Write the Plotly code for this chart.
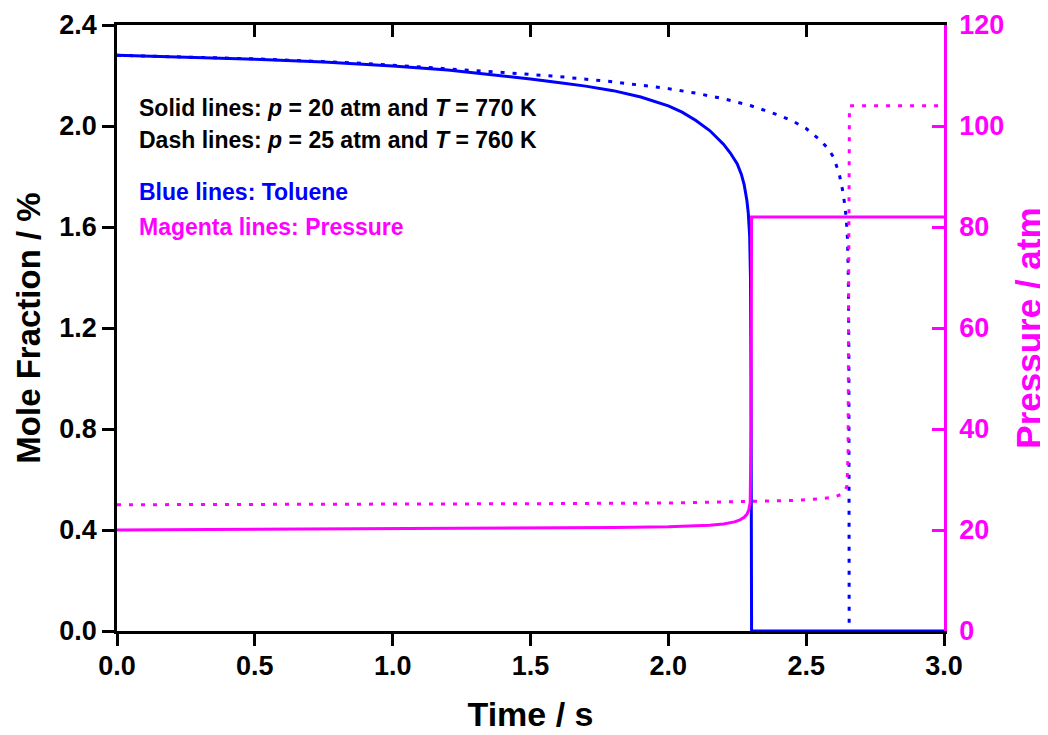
import plotly.graph_objects as go

# ---------------- data ----------------
t_tol_solid = [0.0, 0.25, 0.5, 0.75, 1.0, 1.2, 1.4, 1.5, 1.6, 1.7, 1.8, 1.9, 2.0, 2.05,
               2.1, 2.15, 2.2, 2.225, 2.25, 2.265, 2.275, 2.285, 2.29, 2.295, 2.298,
               2.300, 2.302, 3.0]
x_tol_solid = [2.280, 2.273, 2.264, 2.253, 2.238, 2.222, 2.199, 2.186, 2.172, 2.158,
               2.140, 2.115, 2.080, 2.055, 2.022, 1.982, 1.928, 1.893, 1.850, 1.808,
               1.768, 1.705, 1.655, 1.565, 1.400, 1.000, 0.0, 0.0]

t_tol_dash = [0.0, 0.5, 0.9, 1.2, 1.4, 1.6, 1.8, 2.0, 2.1, 2.2, 2.3, 2.35, 2.4, 2.45,
              2.5, 2.55, 2.58, 2.6, 2.62, 2.635, 2.645, 2.65, 2.653, 2.655, 2.656]
x_tol_dash = [2.280, 2.266, 2.248, 2.228, 2.212, 2.196, 2.175, 2.148, 2.130, 2.108,
              2.080, 2.062, 2.043, 2.020, 1.990, 1.945, 1.910, 1.875, 1.810, 1.730,
              1.640, 1.550, 1.400, 1.100, 0.0]

t_p_solid = [0.0, 0.5, 1.0, 1.5, 1.8, 2.0, 2.1, 2.15, 2.2, 2.24, 2.26, 2.275, 2.285,
             2.292, 2.297, 2.300, 2.302, 3.0]
p_solid = [20.0, 20.1, 20.2, 20.35, 20.5, 20.65, 20.8, 20.95, 21.2, 21.6, 22.0, 22.5,
           23.1, 24.0, 25.5, 40.0, 82.0, 82.0]

t_p_dash = [0.0, 0.5, 1.0, 1.5, 2.0, 2.3, 2.45, 2.55, 2.6, 2.625, 2.64, 2.648, 2.652,
            2.655, 2.657, 2.99]
p_dash = [25.0, 25.05, 25.1, 25.2, 25.35, 25.6, 25.85, 26.2, 26.5, 27.0, 27.8, 28.7,
          35.0, 80.0, 104.0, 104.0]

x_ticks = [0.0, 0.5, 1.0, 1.5, 2.0, 2.5, 3.0]
x_tick_labels = ["0.0", "0.5", "1.0", "1.5", "2.0", "2.5", "3.0"]
y_ticks = [0.0, 0.4, 0.8, 1.2, 1.6, 2.0, 2.4]
y_tick_labels = ["0.0", "0.4", "0.8", "1.2", "1.6", "2.0", "2.4"]
p_ticks = [0, 20, 40, 60, 80, 100, 120]

BLUE = "#0000FF"
MAG = "#FF00FF"
FONT = "Liberation Sans"
DOT = "4px,8px"

fig = go.Figure()

fig.add_trace(go.Scatter(x=t_p_dash, y=p_dash, mode="lines", yaxis="y2",
                         line=dict(color=MAG, width=3, dash=DOT), showlegend=False))
fig.add_trace(go.Scatter(x=t_tol_dash, y=x_tol_dash, mode="lines",
                         line=dict(color=BLUE, width=3, dash=DOT), showlegend=False))
fig.add_trace(go.Scatter(x=t_tol_solid, y=x_tol_solid, mode="lines",
                         line=dict(color=BLUE, width=3), showlegend=False))
fig.add_trace(go.Scatter(x=t_p_solid, y=p_solid, mode="lines", yaxis="y2",
                         line=dict(color=MAG, width=3), showlegend=False))

tickfont = dict(family=FONT, size=27, color="black", weight="bold")

fig.update_layout(
    width=1040, height=727,
    margin=dict(l=109, r=104, t=17, b=104),
    paper_bgcolor="white", plot_bgcolor="white",
    font=dict(family=FONT),
    xaxis=dict(range=[0, 3.0], tickvals=x_ticks, ticktext=x_tick_labels,
               ticks="outside", ticklen=12, tickwidth=2.5, tickcolor="black",
               showline=True, linecolor="black", linewidth=2.5, automargin=False,
               showgrid=False, zeroline=False, tickfont=tickfont,
               ticklabelstandoff=-3, layer="below traces",
               title=dict(text="<b>Time / s</b>", standoff=23,
                          font=dict(family=FONT, size=34, color="black"))),
    xaxis2=dict(range=[0, 3.0], overlaying="x", side="top", tickvals=x_ticks,
                ticks="inside", ticklen=12, tickwidth=2.5, tickcolor="black",
                showticklabels=False, showline=True, linecolor="black", linewidth=2.5,
                showgrid=False, zeroline=False, automargin=False),
    yaxis=dict(range=[0, 2.4], tickvals=y_ticks, ticktext=y_tick_labels,
               ticks="outside", ticklen=12, tickwidth=2.5, tickcolor="black",
               showline=True, linecolor="black", linewidth=2.5, automargin=False,
               showgrid=False, zeroline=False, tickfont=tickfont,
               title=dict(text="<b>Mole Fraction / %</b>", standoff=9,
                          font=dict(family=FONT, size=33, color="black"))),
    yaxis2=dict(range=[0, 120], overlaying="y", side="right", tickvals=p_ticks,
                ticks="inside", ticklen=12, tickwidth=2.5, tickcolor=MAG,
                showline=True, linecolor=MAG, linewidth=2.5, automargin=False,
                showgrid=False, zeroline=False, ticklabelstandoff=7,
                tickfont=dict(family=FONT, size=27, color=MAG, weight="bold"),
                title=dict(text="<b>Pressure / atm</b>", standoff=21,
                           font=dict(family=FONT, size=35, color=MAG))),
)

# dummy trace to activate xaxis2
fig.add_trace(go.Scatter(x=[0, 3], y=[None, None], xaxis="x2", mode="lines",
                         showlegend=False, hoverinfo="skip"))

anns = [
    ("<b>Solid lines: <i>p</i> = 20 atm and <i>T</i> = 770 K</b>", 2.07, "black"),
    ("<b>Dash lines: <i>p</i> = 25 atm and <i>T</i> = 760 K</b>", 1.943, "black"),
    ("<b>Blue lines: Toluene</b>", 1.74, BLUE),
    ("<b>Magenta lines: Pressure</b>", 1.60, MAG),
]
for txt, yv, col in anns:
    fig.add_annotation(x=0.072, y=yv, xref="x", yref="y", text=txt, showarrow=False,
                       xanchor="left", yanchor="middle",
                       font=dict(family=FONT, size=23, color=col))

fig.write_html("out.html")
